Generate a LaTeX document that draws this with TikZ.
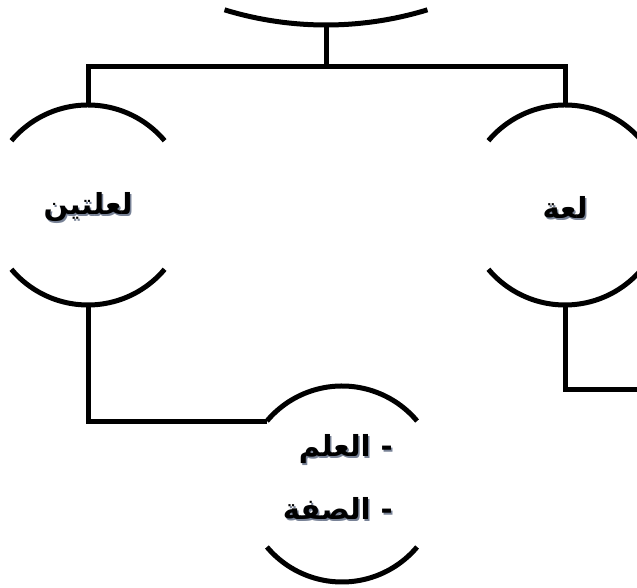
\documentclass[tikz,border=0pt]{standalone}
\usepackage{fontspec}
\TeXXeTstate=1
\newfontfamily\arabicfont[Script=Arabic]{DejaVu Sans}
\definecolor{shadowc}{RGB}{120,130,150}
\newcommand\shadowed[1]{\leavevmode\rlap{\kern1.5pt\raisebox{-2pt}{\color{shadowc}\beginR #1\endR}}\beginR #1\endR}
\begin{document}
\begin{tikzpicture}[x=1pt,y=1pt,
  line/.style={line width=5pt,line join=miter,black},
  arclabel/.style={font=\arabicfont\bfseries\fontsize{29}{63}\selectfont,text=black,align=right,inner sep=0pt}]
\useasboundingbox (0,0) rectangle (637,588);
\clip (0,0) rectangle (637,588);
% circle centres
\coordinate (ctop) at (326,910);
\coordinate (cl) at (88,383);
\coordinate (cr) at (565,383);
\coordinate (cb) at (342,104);
% arcs
\draw[line] ([shift={(253:347)}]ctop) arc[start angle=253,end angle=287,radius=347];
\draw[line] ([shift={(40:100)}]cl) arc[start angle=40,end angle=140,radius=100];
\draw[line] ([shift={(220:100)}]cl) arc[start angle=220,end angle=320,radius=100];
\draw[line] ([shift={(40:100)}]cr) arc[start angle=40,end angle=140,radius=100];
\draw[line] ([shift={(220:100)}]cr) arc[start angle=220,end angle=320,radius=100];
\draw[line] ([shift={(40:98)}]cb) arc[start angle=40,end angle=140,radius=98];
\draw[line] ([shift={(220:98)}]cb) arc[start angle=220,end angle=320,radius=98];
% anchor points
\coordinate (topbot) at (326,563);
\coordinate (ltop) at (88,483);
\coordinate (lbot) at (88,283);
\coordinate (rtop) at (565,483);
\coordinate (rbot) at (565,283);
\coordinate (bleft) at ([shift={(140:98)}]cb);
\coordinate (rend) at (640,198);
% texts
\node[arclabel] (tl) at (88,380) {\shadowed{لعلتين}};
\node[arclabel] (tr) at (565,380) {\shadowed{لعة}};
\node[arclabel,anchor=east] (tb) at (393,110) {\shadowed{- العلم}\\\shadowed{- الصفة}};
% connectors
\draw[line] (topbot) -- (326,521) -| (ltop);
\draw[line] (326,521) -| (rtop);
\draw[line] (lbot) |- (bleft);
\draw[line] (rbot) |- (rend);
\end{tikzpicture}
\end{document}
